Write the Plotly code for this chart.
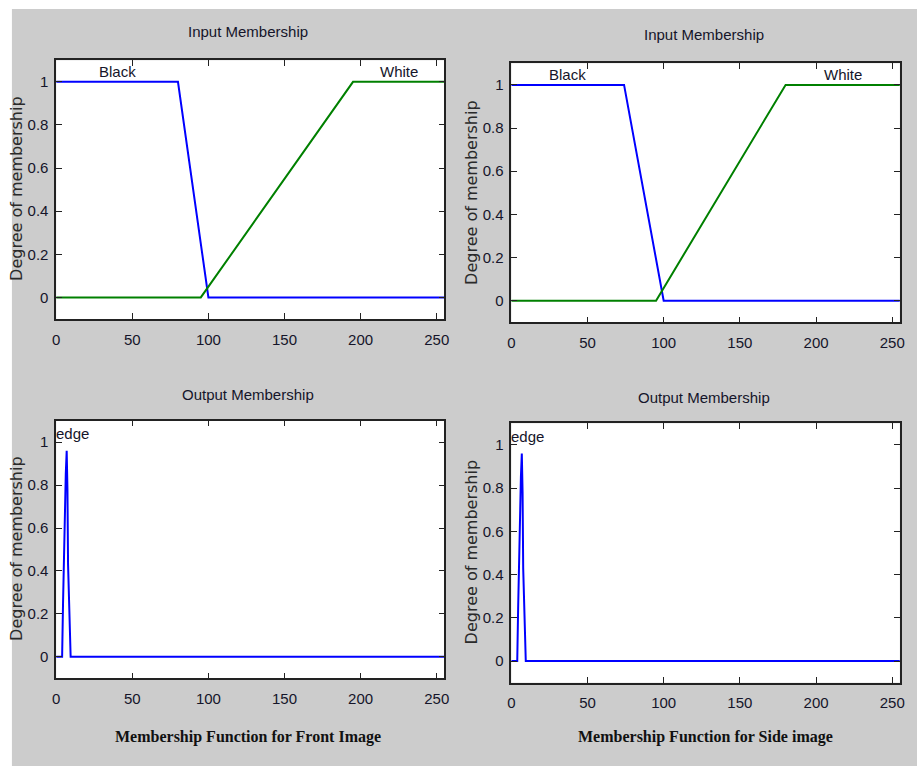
import plotly.graph_objects as go

# ---------------- data ----------------
x_ticks = [0, 50, 100, 150, 200, 250]
y_ticks = [0, 0.2, 0.4, 0.6, 0.8, 1]

front_black_x = [0, 80, 100, 255]
front_black_y = [1, 1, 0, 0]
front_white_x = [0, 95, 195, 255]
front_white_y = [0, 0, 1, 1]

side_black_x = [0, 74, 100, 255]
side_black_y = [1, 1, 0, 0]
side_white_x = [0, 95, 180, 255]
side_white_y = [0, 0, 1, 1]

edge_x = [0, 3.9, 4.5, 5.0, 5.6, 6.3, 6.9, 7.4, 7.8, 8.7, 9.5, 255]
edge_y = [0, 0, 0.25, 0.44, 0.65, 0.85, 0.96, 0.78, 0.43, 0.19, 0, 0]

input_title = "Input Membership"
output_title = "Output Membership"
y_title = "Degree of membership"
front_caption = "Membership Function for Front Image"
side_caption = "Membership Function for Side image"

# ---------------- layout helpers ----------------
W, H = 922, 766
NARROW = "Liberation Sans Narrow, Arial Narrow, Liberation Sans, sans-serif"
TXT = "#15152a"

def px(v):
    return v / W

def py(v):
    return 1 - v / H

# panel pixel boxes (left, right, top, bottom)
panels = [
    (52.7, 444.7, 60.3, 319.0),
    (512.3, 904.7, 63.3, 322.3),
    (52.7, 444.7, 420.7, 678.3),
    (512.3, 904.7, 423.3, 682.7),
]

fig = go.Figure()

BLUE = "#0000ff"
GREEN = "#008000"

series = [
    [(front_black_x, front_black_y, BLUE), (front_white_x, front_white_y, GREEN)],
    [(side_black_x, side_black_y, BLUE), (side_white_x, side_white_y, GREEN)],
    [(edge_x, edge_y, BLUE)],
    [(edge_x, edge_y, BLUE)],
]

for i, (l, r, t, b) in enumerate(panels):
    n = "" if i == 0 else str(i + 1)
    xa = "x" + n
    ya = "y" + n
    for sx, sy, col in series[i]:
        fig.add_trace(go.Scatter(x=sx, y=sy, mode="lines", xaxis=xa, yaxis=ya,
                                 line=dict(color=col, width=2), showlegend=False,
                                 hoverinfo="skip"))
    axcommon = dict(showgrid=False, zeroline=False, showline=True, linecolor="#222222",
                    linewidth=1.5, mirror="ticks", ticks="inside", ticklen=6,
                    tickcolor="#222222", tickwidth=1.2,
                    tickfont=dict(family=NARROW, size=15, color=TXT))
    fig.update_layout(**{
        ("xaxis" + n): dict(domain=[px(l), px(r)], range=[0, 255], tickvals=x_ticks,
                            anchor=ya, ticklabelstandoff=6, **axcommon),
        ("yaxis" + n): dict(domain=[py(b), py(t)], range=[-0.1, 1.1], tickvals=y_ticks,
                            anchor=xa, ticklabelstandoff=3, **axcommon),
    })

annotations = []
# titles
for (cx, cy, txt) in [(246.7, 32, input_title), (706.7, 35, input_title),
                      (246.7, 394, output_title), (706.7, 397, output_title)]:
    annotations.append(dict(x=px(cx), y=py(cy), xref="paper", yref="paper", text=txt,
                            showarrow=False, xanchor="center", yanchor="middle",
                            font=dict(family=NARROW, size=15, color=TXT)))
# y axis titles
for (cx, cy) in [(12, 188), (472, 192.5), (12, 548), (472, 552)]:
    annotations.append(dict(x=px(cx), y=py(cy), xref="paper", yref="paper", text=y_title,
                            textangle=-90, showarrow=False, xanchor="center", yanchor="middle",
                            font=dict(family="DejaVu Sans, Verdana, sans-serif", size=16,
                                      color="#2a2a2a")))
# captions
for (cx, cy, txt) in [(246.5, 737, front_caption), (708.3, 737, side_caption)]:
    annotations.append(dict(x=px(cx), y=py(cy), xref="paper", yref="paper",
                            text="<b>" + txt + "</b>", showarrow=False,
                            xanchor="center", yanchor="middle",
                            font=dict(family="Liberation Serif, Times New Roman, serif",
                                      size=16, color="#111111")))
# membership function labels
mf_labels = [("x", "y", 40, 1.05, "Black", "center"), ("x", "y", 225, 1.05, "White", "center"),
             ("x2", "y2", 37, 1.05, "Black", "center"), ("x2", "y2", 217.5, 1.05, "White", "center"),
             ("x3", "y3", 0, 1.04, "edge", "left"), ("x4", "y4", 0, 1.04, "edge", "left")]
for xr, yr, xv, yv, txt, anc in mf_labels:
    annotations.append(dict(x=xv, y=yv, xref=xr, yref=yr, text=txt, showarrow=False,
                            xanchor=anc, yanchor="middle", xshift=(-2 if anc == "left" else 0),
                            font=dict(family=NARROW, size=15, color=TXT)))

shapes = [dict(type="rect", xref="paper", yref="paper", x0=px(8), x1=1.0, y0=0.0, y1=py(9),
               fillcolor="#cccccc", line=dict(width=0), layer="below")]
for i, (l, r, t, b) in enumerate(panels):
    shapes.append(dict(type="rect", xref="paper", yref="paper", x0=px(l), x1=px(r),
                       y0=py(b), y1=py(t), fillcolor="#ffffff", line=dict(width=0),
                       layer="below"))

fig.update_layout(width=W, height=H, margin=dict(l=0, r=0, t=0, b=0),
                  paper_bgcolor="#ffffff", plot_bgcolor="rgba(0,0,0,0)",
                  annotations=annotations, shapes=shapes)

fig.write_html("out.html")
